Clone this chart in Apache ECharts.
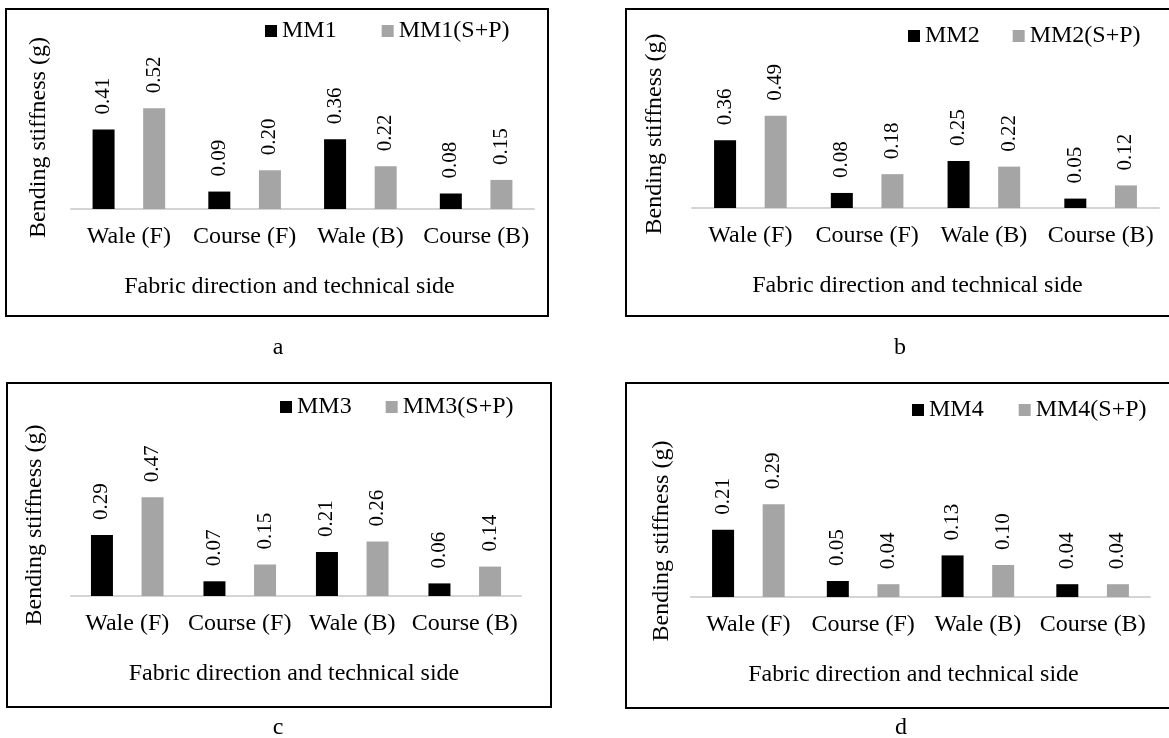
<!DOCTYPE html>
<html>
<head>
<meta charset="utf-8">
<script src="https://cdn.jsdelivr.net/npm/echarts@6/dist/echarts.min.js"></script>
<style>
  html, body { margin: 0; padding: 0; background: #fff; }
  #chart { width: 1169px; height: 738px; }
</style>
</head>
<body>
<div id="chart"></div>
<script>
const categories = ['Wale (F)', 'Course (F)', 'Wale (B)', 'Course (B)'];

const mm1 = [0.41, 0.09, 0.36, 0.08];
const mm1sp = [0.52, 0.20, 0.22, 0.15];
const mm2 = [0.36, 0.08, 0.25, 0.05];
const mm2sp = [0.49, 0.18, 0.22, 0.12];
const mm3 = [0.29, 0.07, 0.21, 0.06];
const mm3sp = [0.47, 0.15, 0.26, 0.14];
const mm4 = [0.21, 0.05, 0.13, 0.04];
const mm4sp = [0.29, 0.04, 0.10, 0.04];

const seriesNames = [
  ['MM1', 'MM1(S+P)'],
  ['MM2', 'MM2(S+P)'],
  ['MM3', 'MM3(S+P)'],
  ['MM4', 'MM4(S+P)']
];
const panelData = [[mm1, mm1sp], [mm2, mm2sp], [mm3, mm3sp], [mm4, mm4sp]];
const panelLetters = ['a', 'b', 'c', 'd'];

const FONT = '"Liberation Serif", "Times New Roman", serif';
const DARK = '#000000';
const GRAY = '#a5a5a5';

// layout of each sub chart (pixels)
const panels = [
  { grid: { left: 71, top: 66, width: 463, height: 143 }, max: 0.738, legend: { left: 265, top: 19, gap: 45 },
    yGap: 20, xPad: 26, box: [6, 9, 542, 307], letter: [278, 348] },
  { grid: { left: 692, top: 60, width: 467, height: 148 }, max: 0.787, legend: { left: 908, top: 24, gap: 33 },
    yGap: 25, xPad: 16, box: [626, 9, 560, 307], letter: [900, 348] },
  { grid: { left: 71, top: 454, width: 450, height: 142 }, max: 0.676, legend: { left: 280, top: 395, gap: 34 },
    yGap: 24, xPad: 4, box: [7, 383, 544, 324], letter: [278, 728] },
  { grid: { left: 691, top: 485, width: 459, height: 112 }, max: 0.35, legend: { left: 912, top: 398, gap: 35 },
    yGap: 17, xPad: 14, box: [626, 383, 560, 325], letter: [901, 728] }
];

const chart = echarts.init(document.getElementById('chart'), null, { renderer: 'canvas' });

const grids = [], xAxes = [], yAxes = [], legends = [], series = [], graphics = [];

panels.forEach((p, i) => {
  grids.push(Object.assign({ containLabel: false }, p.grid));

  xAxes.push({
    type: 'category',
    gridIndex: i,
    data: categories,
    axisTick: { show: false },
    axisLine: { lineStyle: { color: '#d4d4d4', width: 2 } },
    axisLabel: { interval: 0, margin: 16, color: DARK, fontFamily: FONT, fontSize: 24 },
    name: 'Fabric direction and technical side',
    nameLocation: 'middle',
    nameGap: 66,
    nameTextStyle: { color: DARK, fontFamily: FONT, fontSize: 24, padding: [0, p.xPad, 0, 0] }
  });

  yAxes.push({
    type: 'value',
    gridIndex: i,
    min: 0,
    max: p.max,
    axisLine: { show: false },
    axisTick: { show: false },
    axisLabel: { show: false },
    splitLine: { show: false },
    name: 'Bending stiffness (g)',
    nameLocation: 'middle',
    nameGap: p.yGap,
    nameTextStyle: { color: DARK, fontFamily: FONT, fontSize: 24 }
  });

  legends.push({
    data: seriesNames[i],
    left: p.legend.left,
    top: p.legend.top,
    padding: 0,
    icon: 'rect',
    itemWidth: 12,
    itemHeight: 12,
    itemGap: p.legend.gap,
    selectedMode: false,
    textStyle: { color: DARK, fontFamily: FONT, fontSize: 24 }
  });

  [DARK, GRAY].forEach((c, k) => {
    series.push({
      name: seriesNames[i][k],
      type: 'bar',
      xAxisIndex: i,
      yAxisIndex: i,
      data: panelData[i][k],
      barWidth: 22,
      barGap: '130%',
      itemStyle: { color: c },
      label: {
        show: true,
        position: 'top',
        distance: 15,
        rotate: 90,
        align: 'left',
        verticalAlign: 'middle',
        color: DARK,
        fontFamily: FONT,
        fontSize: 21,
        formatter: d => d.value.toFixed(2)
      }
    });
  });

  graphics.push({
    type: 'rect',
    shape: { x: p.box[0], y: p.box[1], width: p.box[2], height: p.box[3] },
    style: { fill: 'none', stroke: '#000', lineWidth: 2 },
    silent: true
  });
  graphics.push({
    type: 'text',
    x: p.letter[0],
    y: p.letter[1],
    style: { text: panelLetters[i], fill: DARK, font: '24px ' + FONT, textAlign: 'center', textVerticalAlign: 'middle' },
    silent: true
  });
});

chart.setOption({
  animation: false,
  backgroundColor: '#ffffff',
  grid: grids,
  xAxis: xAxes,
  yAxis: yAxes,
  legend: legends,
  series: series,
  graphic: graphics
});
</script>
</body>
</html>
